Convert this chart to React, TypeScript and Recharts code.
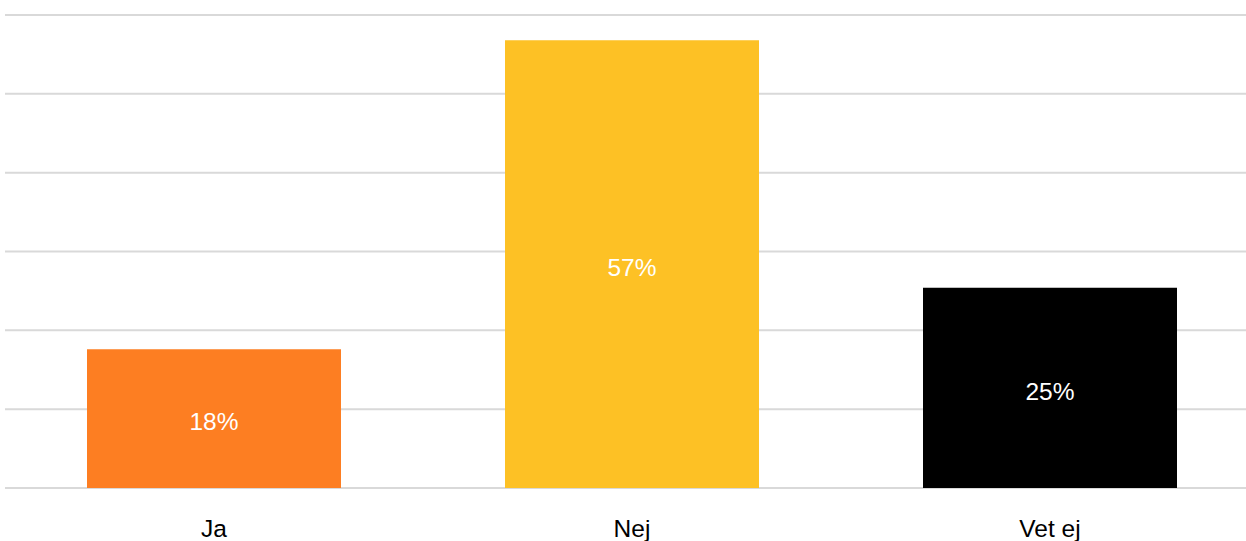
import React from "react";
import { BarChart, Bar, XAxis, YAxis, CartesianGrid, Cell, LabelList } from "recharts";

const categories = ["Ja", "Nej", "Vet ej"];
const values = [17.6, 56.8, 25.4];
const labels = ["18%", "57%", "25%"];
const colors = ["#FD7E22", "#FDC125", "#000000"];
const yTicks = [0, 10, 20, 30, 40, 50, 60];

const data = categories.map((c, i) => ({ name: c, value: values[i], label: labels[i] }));

const FONT = "'Liberation Sans', Arial, Helvetica, sans-serif";

export default function App() {
  return (
    <div
      style={{
        position: "absolute",
        left: 0,
        top: 0,
        width: 1246,
        height: 541,
        overflow: "hidden",
        background: "#fff",
      }}
    >
      <BarChart
        width={1264}
        height={541}
        data={data}
        margin={{ top: 15, right: 5, left: 5, bottom: 0 }}
        barSize={254}
      >
        <CartesianGrid vertical={false} stroke="#d9d9d9" strokeWidth={2} />
        <YAxis hide domain={[0, 60]} ticks={yTicks} />
        <XAxis
          dataKey="name"
          axisLine={false}
          tickLine={false}
          height={53}
          tickMargin={26}
          tick={{ fill: "#000", fontSize: 24.5, fontFamily: FONT }}
          interval={0}
        />
        <Bar dataKey="value" isAnimationActive={false}>
          {data.map((d, i) => (
            <Cell key={d.name} fill={colors[i]} />
          ))}
          <LabelList
            dataKey="label"
            position="center"
            fill="#fff"
            style={{ fontSize: 24.5, fontFamily: FONT }}
            dy={3}
          />
        </Bar>
      </BarChart>
    </div>
  );
}
